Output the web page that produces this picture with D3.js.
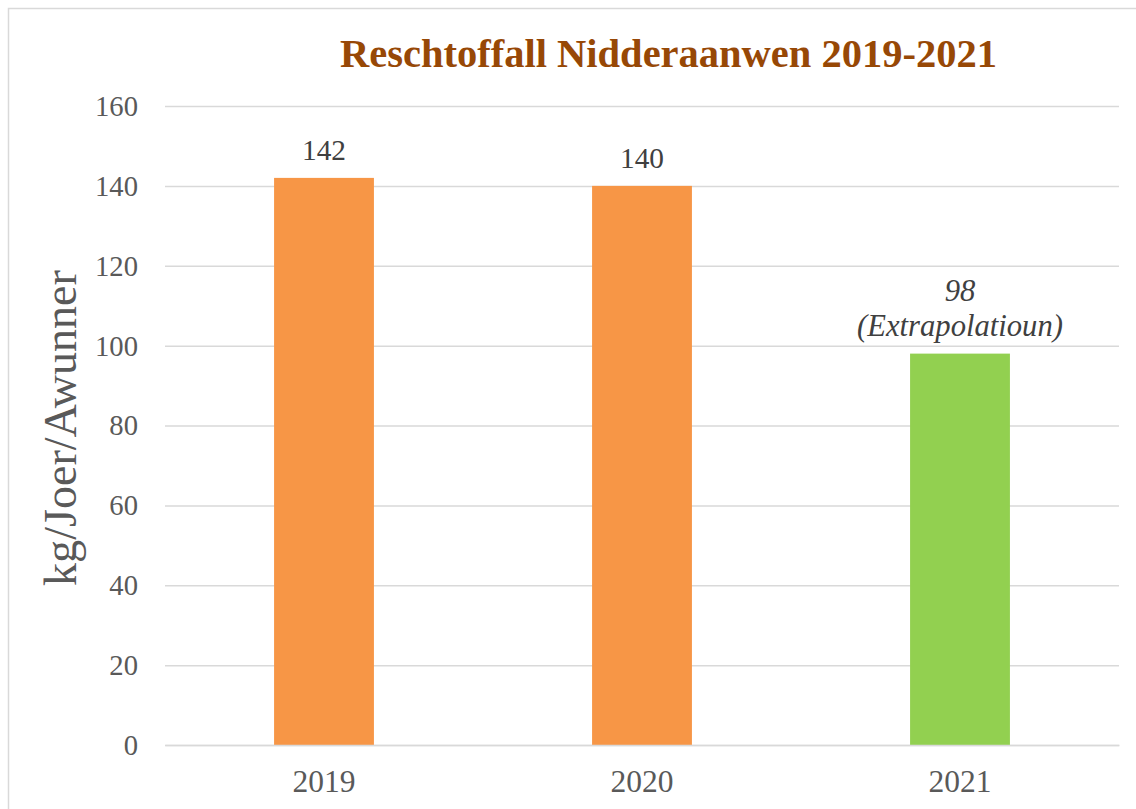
<!DOCTYPE html>
<html><head><meta charset="utf-8">
<script src="https://cdn.jsdelivr.net/npm/d3@7"></script>
<style>html,body{margin:0;padding:0;background:#fff;overflow:hidden}</style>
</head><body>
<svg id="c" width="1136" height="809"></svg>
<script>
const categories = ["2019", "2020", "2021"];
const values = [142, 140, 98];
const barColors = ["#F79646", "#F79646", "#92D050"];
const labelLines = [["142"], ["140"], ["98", "(Extrapolatioun)"]];
const labelItalic = [false, false, true];
const yTicks = [0, 20, 40, 60, 80, 100, 120, 140, 160];
const title = "Reschtoffall Nidderaanwen 2019-2021";
const yTitle = "kg/Joer/Awunner";

const svg = d3.select("#c");
const serif = "'Liberation Serif', 'DejaVu Serif', serif";
const textCol = "#595959";

// size helper: font size giving a target width for a sample string
function fitSize(str, target, opts) {
  const t = svg.append("text").attr("font-family", serif).attr("font-size", 100)
    .attr("font-weight", opts && opts.bold ? "bold" : "normal")
    .attr("font-style", opts && opts.italic ? "italic" : "normal").text(str);
  const w = t.node().getComputedTextLength();
  t.remove();
  return 100 * target / w;
}

svg.append("rect").attr("x", 8.5).attr("y", 8.5).attr("width", 1200).attr("height", 900)
  .attr("fill", "#fff").attr("stroke", "#D9D9D9").attr("stroke-width", 1.5);

const x = d3.scaleBand().domain(categories).range([165, 1119]).paddingInner(0.686).paddingOuter(0.343);
const y = d3.scaleLinear().domain([0, 160]).range([745, 106]);

const tickSize = fitSize("160", 43);
const xSize = fitSize("2019", 63);

// gridlines
const yAxis = d3.axisLeft(y).tickValues(yTicks).tickSize(-(1119 - 165)).tickPadding(27);
const gy = svg.append("g").attr("transform", "translate(165,0)").call(yAxis);
gy.select(".domain").remove();
gy.selectAll("line").attr("stroke", "#D9D9D9").attr("stroke-width", 1.5);
gy.selectAll("text").attr("font-family", serif).attr("font-size", tickSize).attr("fill", textCol)
  .attr("dy", "0.33em");

// bars
svg.append("g").selectAll("rect").data(values).join("rect")
  .attr("x", (d, i) => x(categories[i]))
  .attr("y", d => y(d))
  .attr("width", x.bandwidth())
  .attr("height", d => y(0) - y(d))
  .attr("fill", (d, i) => barColors[i]);

// x axis
const xAxis = d3.axisBottom(x).tickSize(0).tickPadding(0);
const gx = svg.append("g").attr("transform", "translate(0,745)").call(xAxis);
gx.select(".domain").attr("stroke", "#D9D9D9").attr("stroke-width", 1.5);
gx.selectAll("text").attr("font-family", serif).attr("font-size", xSize).attr("fill", textCol)
  .attr("y", 47).attr("dy", null);

// data labels
const lblSize = fitSize("142", 44);
const itSize = fitSize("(Extrapolatioun)", 206, {italic: true});
values.forEach((v, i) => {
  const lines = labelLines[i];
  const cx = x(categories[i]) + x.bandwidth() / 2;
  const t = svg.append("text").attr("text-anchor", "middle")
    .attr("font-family", serif).attr("font-size", labelItalic[i] ? itSize : lblSize).attr("fill", "#404040")
    .attr("font-style", labelItalic[i] ? "italic" : "normal");
  lines.forEach((ln, j) => {
    const yy = y(v) - 18 - (lines.length - 1 - j) * 35;
    t.append("tspan").attr("x", cx).attr("y", yy).text(ln);
  });
});

// title
const titleSize = fitSize(title, 657, {bold: true});
svg.append("text").attr("x", 668.5).attr("y", 67).attr("text-anchor", "middle")
  .attr("font-family", serif).attr("font-weight", "bold").attr("font-size", titleSize)
  .attr("fill", "#974806").text(title);

// y title
const yTitleSize = fitSize(yTitle, 316);
svg.append("text").attr("transform", "translate(76,428) rotate(-90)")
  .attr("text-anchor", "middle").attr("font-family", serif).attr("font-size", yTitleSize)
  .attr("fill", textCol).text(yTitle);
</script>
</body></html>
